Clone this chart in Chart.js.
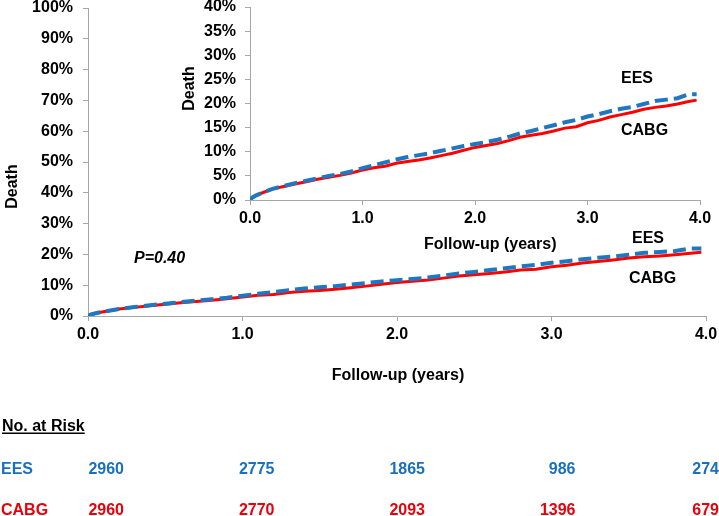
<!DOCTYPE html>
<html>
<head>
<meta charset="utf-8">
<script src="https://cdn.jsdelivr.net/npm/chart.js@4.4.1/dist/chart.umd.min.js"></script>
<style>
  html, body { margin: 0; padding: 0; background: #ffffff; }
  #wrap { position: relative; width: 719px; height: 516px; overflow: hidden; }
  #main { position: absolute; left: 0; top: 0; }
  #inset { position: absolute; left: 150px; top: 0; }
</style>
</head>
<body>
<div id="wrap">
  <canvas id="main" width="719" height="516"></canvas>
  <canvas id="inset" width="569" height="260"></canvas>
</div>
<script>
// ---- Data ----
const years = [0, 0.02, 0.05, 0.1, 0.2, 0.3, 0.4, 0.5, 0.6, 0.7, 0.8, 0.9, 1.0, 1.1, 1.2, 1.3, 1.4, 1.5, 1.6, 1.7, 1.8, 1.9,
  2.0, 2.1, 2.2, 2.3, 2.4, 2.5, 2.6, 2.7, 2.8, 2.9, 3.0, 3.1, 3.2, 3.3, 3.4, 3.5, 3.6, 3.7, 3.8, 3.9, 3.97];
const eesDeath = [0, 0.5, 0.9, 1.4, 2.3, 2.9, 3.5, 4.0, 4.5, 5.0, 5.4, 5.9, 6.6, 7.2, 7.8, 8.4, 8.9, 9.3, 9.7, 10.2, 10.7, 11.2,
  11.6, 12.0, 12.5, 13.1, 13.8, 14.3, 14.9, 15.5, 16.1, 16.6, 17.3, 17.8, 18.4, 18.9, 19.3, 19.9, 20.5, 20.8, 21.1, 21.9, 21.9];
const cabgDeath = [0, 0.5, 0.9, 1.4, 2.3, 2.8, 3.3, 3.8, 4.3, 4.7, 5.1, 5.6, 6.2, 6.7, 7.0, 7.6, 8.0, 8.3, 8.7, 9.2, 9.7, 10.3,
  10.9, 11.3, 11.7, 12.3, 13.0, 13.4, 13.8, 14.3, 14.9, 15.2, 16.0, 16.5, 17.2, 17.7, 18.2, 18.8, 19.2, 19.5, 19.9, 20.4, 20.7];
const seriesNames = ['EES', 'CABG'];
const riskTimes = [0, 1, 2, 3, 4];
const eesAtRisk = [2960, 2775, 1865, 986, 274];
const cabgAtRisk = [2960, 2770, 2093, 1396, 679];
const pValueText = 'P=0.40';
const yTitle = 'Death';
const xTitle = 'Follow-up (years)';

// ---- Styles ----
const BLUE = '#1f77c1';
const RED = '#ff0000';
const TEXT_BLUE = '#1a70c0';
const TEXT_RED = '#e8000b';
const AXIS = '#a6a6a6';
const FONT = '"Liberation Sans", Arial, sans-serif';

function pts(ys) { return years.map((x, i) => ({ x: x, y: ys[i] })); }

function datasets() {
  return [
    { label: seriesNames[0], data: pts(eesDeath), borderColor: BLUE, borderWidth: 4, borderDash: [13, 6],
      pointRadius: 0, tension: 0, fill: false, order: 0 },
    { label: seriesNames[1], data: pts(cabgDeath), borderColor: RED, borderWidth: 3,
      pointRadius: 0, tension: 0, fill: false, order: 1 }
  ];
}

function scales(yMax, yStep, yWidth, xHeight, yPad) {
  const tickFont = { family: FONT, size: 16, weight: 'bold', lineHeight: 1 };
  return {
    x: {
      type: 'linear', min: 0, max: 4,
      ticks: { stepSize: 1, font: tickFont, color: '#000', padding: 6, maxRotation: 0,
        callback: v => Number(v).toFixed(1) },
      grid: { drawOnChartArea: false, drawTicks: true, tickLength: 5, color: AXIS },
      border: { color: AXIS, width: 1 },
      afterFit: s => { s.height = xHeight; s.paddingLeft = 0; s.paddingRight = 0; }
    },
    y: {
      min: 0, max: yMax,
      ticks: { stepSize: yStep, font: tickFont, color: '#000', padding: yPad,
        callback: v => v + '%' },
      grid: { drawOnChartArea: false, drawTicks: true, tickLength: 5, color: AXIS },
      border: { color: AXIS, width: 1 },
      afterFit: s => { s.width = yWidth; s.paddingTop = 0; s.paddingBottom = 0; }
    }
  };
}

function txt(ctx, s, x, y, opts) {
  ctx.save();
  ctx.font = (opts.style || 'bold') + ' 16px ' + FONT;
  ctx.fillStyle = opts.color || '#000';
  ctx.textAlign = opts.align || 'left';
  ctx.textBaseline = opts.baseline || 'alphabetic';
  if (opts.rotate) {
    ctx.translate(x, y);
    ctx.rotate(-Math.PI / 2);
    ctx.fillText(s, 0, 0);
  } else {
    ctx.fillText(s, x, y);
  }
  ctx.restore();
}

const mainText = {
  id: 'mainText',
  afterDraw(chart) {
    const ctx = chart.ctx;
    txt(ctx, yTitle, 13, 186.5, { rotate: true, align: 'center', baseline: 'middle' });
    txt(ctx, xTitle, 398, 380, { align: 'center' });
    txt(ctx, pValueText, 134, 263, { style: 'italic bold' });
    txt(ctx, seriesNames[0], 632, 243, {});
    txt(ctx, seriesNames[1], 629, 283, {});
    // No. at Risk table
    txt(ctx, 'No. at Risk', 2, 431, {});
    ctx.save();
    ctx.font = 'bold 16px ' + FONT;
    const w = ctx.measureText('No. at Risk').width;
    ctx.fillStyle = '#000';
    ctx.fillRect(2, 432.5, w, 1.5);
    ctx.restore();
    txt(ctx, seriesNames[0], 1, 474, { color: TEXT_BLUE });
    txt(ctx, seriesNames[1], 1, 515, { color: TEXT_RED });
    riskTimes.forEach((t, i) => {
      const right = Math.min(124 + 150.5 * i, 719);
      txt(ctx, String(eesAtRisk[i]), right, 474, { color: TEXT_BLUE, align: 'right' });
      txt(ctx, String(cabgAtRisk[i]), right, 515, { color: TEXT_RED, align: 'right' });
    });
  }
};

const insetText = {
  id: 'insetText',
  afterDraw(chart) {
    const ctx = chart.ctx;
    txt(ctx, yTitle, 40, 88.5, { rotate: true, align: 'center', baseline: 'middle' });
    txt(ctx, xTitle, 274, 248.5, {});
    txt(ctx, seriesNames[0], 471, 83, {});
    txt(ctx, seriesNames[1], 471, 135, {});
  }
};

Chart.defaults.font.family = FONT;

new Chart(document.getElementById('main'), {
  type: 'line',
  data: { datasets: datasets() },
  options: {
    responsive: false, animation: false,
    layout: { padding: { left: 0, right: 13, top: 8, bottom: 0 } },
    plugins: { legend: { display: false }, tooltip: { enabled: false } },
    scales: scales(100, 10, 88, 200, 10)
  },
  plugins: [mainText]
});

new Chart(document.getElementById('inset'), {
  type: 'line',
  data: { datasets: datasets() },
  options: {
    responsive: false, animation: false,
    layout: { padding: { left: 0, right: 19, top: 7, bottom: 0 } },
    plugins: { legend: { display: false }, tooltip: { enabled: false } },
    scales: scales(40, 5, 100, 60, 9)
  },
  plugins: [insetText]
});
</script>
</body>
</html>
